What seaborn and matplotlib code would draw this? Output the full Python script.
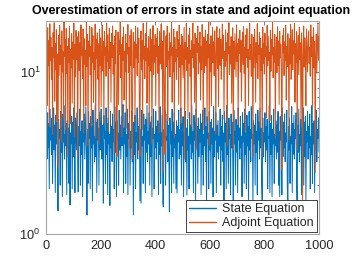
import numpy as np
import pandas as pd
import matplotlib
matplotlib.use("Agg")
import matplotlib.pyplot as plt
import seaborn as sns
from matplotlib.ticker import LogLocator, NullFormatter

title = "Overestimation of errors in state and adjoint equation"
series_names = ["State Equation", "Adjoint Equation"]
iterations = np.arange(2, 1001, 2)

state_values = [
    4.3, 2.9, 5.6, 3.4, 4.8, 1.9, 5.9, 3.8, 4.5, 3.1, 5.2, 2.05, 4.0, 6.0, 3.3, 4.7, 1.8, 5.4, 3.6, 4.9,
    2.8, 1.39, 5.1, 3.9, 4.4, 2.0, 5.7, 3.2, 4.6, 1.7, 5.5, 3.7, 4.1, 2.9, 6.2, 3.5, 4.8, 1.75, 5.0, 3.4,
    4.5, 2.05, 5.8, 1.51, 4.2, 3.6, 5.3, 1.9, 4.9, 3.0, 6.0, 3.8, 1.8, 5.2, 4.0, 3.3, 5.6, 2.8, 1.82, 4.6,
    3.5, 5.9, 2.0, 4.3, 3.1, 5.0, 1.7, 4.7, 3.7, 5.5, 2.9, 4.1, 6.1, 3.2, 1.31, 4.4, 2.05, 5.7, 3.9, 4.8,
    1.9, 5.3, 3.4, 4.6, 1.6, 5.8, 3.6, 4.0, 2.8, 6.2, 3.0, 4.9, 1.8, 5.1, 3.8, 4.5, 2.0, 5.6, 3.3, 4.2,
    5.9, 2.9, 4.7, 3.5, 1.55, 5.4, 3.9, 4.3, 2.05, 6.0, 3.1, 4.8, 1.75, 5.2, 3.6, 4.1, 1.5, 5.7, 3.4, 4.6,
    2.8, 5.5, 3.7, 4.4, 1.9, 6.1, 3.2, 4.9, 1.7, 5.0, 3.8, 4.2, 2.0, 5.8, 3.3, 4.7, 2.9, 5.3, 3.5, 4.0,
    6.3, 1.8, 4.5, 3.6, 5.6, 2.05, 4.1, 3.0, 5.9, 1.75, 4.8, 3.9, 5.1, 2.0, 4.3, 3.4, 5.7, 2.8, 4.6, 1.31,
    4.9, 3.1, 5.4, 1.9, 4.2, 3.7, 6.0, 2.9, 4.6, 3.3, 5.2, 1.6, 4.4, 1.55, 5.8, 3.5, 4.0, 2.05, 5.5, 3.8,
    4.7, 1.8, 5.1, 3.2, 6.2, 2.8, 4.3, 3.6, 5.6, 2.0, 4.9, 3.0, 5.3, 1.7, 4.5, 3.9, 5.9, 1.9, 4.1, 3.4,
    5.7, 2.9, 4.6, 3.7, 5.0, 1.75, 4.8, 3.1, 6.1, 2.05, 4.2, 3.5, 5.4, 1.55, 1.47, 4.4, 3.3, 5.8, 2.0, 4.0,
    3.8, 5.5, 2.8, 4.7, 3.2, 1.37, 5.2, 3.6, 4.3, 1.8, 5.9, 3.0, 4.9, 2.05, 5.6, 3.4, 4.1, 1.9, 5.0, 1.79,
    4.6, 3.7, 5.8, 2.9, 4.4, 3.1, 6.0, 2.0, 4.8, 3.5, 5.3, 1.7, 4.2, 3.9, 5.7, 2.8, 4.5, 1.74, 5.1, 3.3,
    4.0, 1.9, 5.6, 3.6, 4.7, 2.9, 6.2, 3.2, 4.3, 1.8, 5.4, 3.8, 4.9, 1.6, 5.9, 3.4, 4.6, 2.05, 5.2, 3.0,
    4.4, 3.7, 5.5, 1.75, 4.8, 3.1, 5.8, 2.0, 4.1, 3.5, 6.0, 2.8, 4.6, 1.5, 5.3, 3.9, 4.2, 1.9, 5.7, 3.3,
    4.9, 2.05, 5.1, 3.6, 4.5, 1.7, 6.1, 3.0, 4.3, 3.8, 5.6, 1.8, 4.7, 3.2, 5.0, 2.9, 4.0, 3.5, 5.9, 2.0,
    4.6, 3.3, 5.4, 2.8, 4.2, 1.45, 5.7, 3.7, 4.8, 1.9, 6.2, 3.1, 4.4, 2.05, 5.2, 3.9, 4.1, 1.75, 5.5, 3.4,
    4.9, 3.0, 1.45, 5.8, 3.6, 4.3, 2.0, 5.1, 3.2, 4.7, 1.8, 6.0, 3.8, 4.5, 2.9, 5.3, 3.4, 4.0, 1.7, 5.6,
    3.7, 4.8, 2.05, 5.9, 3.1, 4.2, 1.9, 5.4, 3.5, 4.6, 1.55, 5.7, 3.3, 4.4, 2.8, 6.1, 3.9, 4.1, 1.5, 5.0,
    3.6, 4.7, 2.0, 5.5, 3.2, 4.3, 1.75, 5.8, 3.8, 4.9, 2.9, 6.0, 3.4, 4.5, 2.05, 1.6, 5.2, 3.0, 4.2, 3.7,
    5.6, 2.8, 4.6, 3.3, 5.1, 1.9, 4.0, 3.9, 6.2, 1.8, 4.8, 3.1, 5.4, 1.7, 4.4, 3.6, 5.9, 2.05, 4.1, 3.5,
    5.0, 2.9, 4.7, 3.2, 5.7, 2.0, 4.3, 1.7, 5.3, 3.8, 4.5, 1.75, 6.0, 3.0, 4.9, 3.4, 5.5, 2.8, 4.2, 3.7,
    5.8, 1.9, 1.45, 4.6, 3.3, 5.2, 2.05, 4.0, 3.6, 6.1, 1.8, 4.8, 3.1, 5.4, 2.9, 4.4, 3.9, 5.6, 2.0, 1.5,
    4.7, 3.2, 5.9, 2.8, 4.1, 3.5, 5.1, 1.75, 4.5, 3.8, 6.0, 2.0, 4.9, 3.0, 5.3, 1.6, 4.3, 3.7, 5.7, 2.9,
    4.6, 3.4, 5.5, 1.9, 4.0, 3.1, 6.2, 2.05, 4.8, 3.6, 5.0, 1.8, 4.2, 3.3, 5.8, 2.8, 4.4, 3.9, 5.2, 3.2,
]

adjoint_values = [
    13.5, 6.2, 18.7, 10.9, 15.6, 4.6, 19.8, 11.7, 16.3, 9.0, 14.1, 4.1, 17.5, 12.2, 20.1, 6.6, 15.0, 10.3, 18.2, 5.0,
    12.9, 2.6, 16.8, 9.5, 19.3, 11.1, 14.6, 3.7, 17.9, 10.0, 13.3, 5.2, 20.3, 12.5, 15.9, 4.4, 18.5, 9.8, 14.4, 3.0,
    16.1, 11.4, 19.0, 4.8, 13.8, 10.6, 17.2, 6.4, 15.3, 12.0, 20.0, 4.0, 14.8, 9.3, 18.0, 11.9, 16.5, 3.0, 13.0, 17.7,
    10.2, 15.1, 5.1, 19.5, 12.7, 14.0, 9.1, 18.4, 4.2, 16.0, 11.2, 13.6, 6.2, 20.2, 10.8, 17.0, 3.5, 15.5, 12.4, 19.1,
    9.6, 14.3, 4.6, 18.8, 11.5, 16.7, 6.5, 13.2, 10.4, 19.7, 3.9, 15.8, 12.1, 17.4, 9.0, 14.9, 3.6, 18.3, 11.0, 16.2,
    6.1, 13.7, 19.4, 10.1, 15.4, 4.8, 17.8, 12.6, 14.2, 9.4, 20.0, 11.6, 16.9, 4.3, 13.1, 18.6, 10.5, 15.2, 6.5, 17.3,
    12.3, 19.2, 9.7, 14.5, 3.2, 16.6, 11.3, 18.1, 5.0, 3.0, 10.7, 17.6, 6.3, 15.7, 12.8, 20.4, 9.2, 14.7, 4.0, 16.4,
    11.8, 18.9, 6.7, 13.4, 10.0, 17.1, 4.5, 15.0, 12.9, 19.6, 9.9, 14.1, 3.4, 16.8, 11.0, 18.2, 5.2, 2.9, 13.6, 17.5,
    10.6, 15.3, 4.9, 19.0, 12.2, 14.8, 9.5, 18.7, 11.4, 16.1, 6.2, 3.0, 13.0, 17.9, 10.3, 15.6, 4.4, 19.9, 12.0, 14.4,
    9.1, 17.2, 11.7, 20.1, 6.4, 14.0, 10.9, 16.5, 4.7, 13.5, 18.4, 10.1, 15.9, 3.6, 12.7, 19.3, 9.6, 14.6, 11.5, 17.0,
    6.2, 16.0, 12.5, 18.6, 9.8, 14.3, 4.2, 17.7, 11.2, 13.8, 19.8, 10.4, 15.4, 2.4, 12.1, 18.0, 6.6, 3.1, 14.9, 16.7,
    10.8, 19.1, 5.0, 13.3, 11.9, 17.4, 9.3, 15.1, 12.6, 20.2, 6.5, 14.2, 10.0, 18.3, 3.9, 16.3, 11.6, 13.7, 9.0, 17.8,
    12.4, 15.8, 6.3, 19.4, 10.7, 14.6, 4.8, 17.1, 11.1, 16.6, 9.2, 13.0, 18.8, 2.9, 15.2, 12.0, 19.9, 10.2, 14.1, 5.2,
    16.9, 11.3, 18.5, 9.4, 13.6, 4.6, 15.6, 12.3, 20.0, 10.6, 14.7, 6.5, 17.3, 11.8, 3.3, 16.1, 13.2, 19.2, 9.7, 15.0,
    11.5, 17.6, 6.7, 14.4, 10.3, 19.6, 12.7, 4.4, 16.4, 9.9, 13.9, 18.1, 10.9, 15.5, 4.9, 17.0, 12.2, 20.3, 3.5, 14.8,
    10.1, 16.7, 6.2, 13.1, 18.9, 11.4, 15.3, 9.5, 17.9, 12.8, 4.1, 14.5, 19.0, 10.5, 16.2, 6.1, 13.5, 18.4, 11.0, 15.9,
    9.0, 14.0, 19.7, 12.1, 16.8, 5.1, 13.4, 10.8, 18.2, 11.7, 15.1, 3.5, 17.4, 12.9, 20.1, 9.6, 14.3, 11.2, 16.5, 6.4,
    13.7, 18.7, 3.3, 15.4, 10.4, 17.2, 12.5, 9.3, 19.5, 11.6, 14.9, 4.7, 16.0, 13.0, 18.0, 10.0, 15.7, 6.6, 12.6, 17.6,
    11.1, 19.1, 9.8, 14.2, 4.3, 16.9, 12.3, 18.5, 10.7, 13.8, 6.2, 15.6, 20.0, 11.9, 14.7, 9.4, 17.1, 12.0, 3.0, 16.3,
    10.6, 18.3, 13.3, 6.5, 15.2, 11.4, 19.8, 9.1, 14.6, 12.8, 17.5, 4.5, 16.1, 10.2, 13.9, 3.0, 18.8, 11.3, 15.0, 9.7,
    17.3, 12.4, 14.4, 5.2, 19.3, 10.9, 16.6, 11.8, 13.2, 5.0, 18.1, 10.1, 15.8, 12.7, 20.2, 9.2, 14.1, 11.5, 17.0, 3.9,
    13.6, 16.4, 9.9, 19.0, 11.0, 15.5, 6.3, 17.8, 12.2, 14.8, 10.5, 2.5, 16.7, 13.1, 18.6, 9.5, 15.3, 11.7, 19.4, 6.7,
    14.3, 10.8, 17.2, 12.6, 3.8, 16.0, 11.2, 19.7, 9.0, 13.7, 18.2, 10.3, 15.6, 12.9, 20.0, 6.5, 14.9, 11.4, 17.7, 3.3,
    13.4, 16.8, 9.6, 18.9, 11.9, 15.1, 4.8, 17.4, 12.1, 1.6, 14.6, 19.2, 10.7, 16.2, 12.8, 6.2, 18.4, 13.8, 10.0, 15.7,
    17.9, 11.3, 14.2, 9.4, 19.5, 12.5, 16.4, 6.1, 13.0, 18.7, 10.6, 15.4, 2.4, 12.3, 17.1, 9.8, 14.0, 20.1, 11.8, 16.6,
]

x_ticks = [0, 200, 400, 600, 800, 1000]
colors = ["#0072BD", "#D95319"]

sns.set_style("white")
plt.rcParams["font.family"] = ["Liberation Sans", "DejaVu Sans"]
plt.rcParams["mathtext.fontset"] = "custom"
plt.rcParams["mathtext.rm"] = "Liberation Sans"
plt.rcParams["mathtext.it"] = "Liberation Sans:italic"
plt.rcParams["mathtext.bf"] = "Liberation Sans:bold"

fig = plt.figure(figsize=(3.53, 2.64), dpi=100)
ax = fig.add_axes([46 / 353, 1 - 234 / 264, 273 / 353, 213 / 264])

df = pd.DataFrame({
    "iter": np.concatenate([iterations, iterations]),
    "value": state_values + adjoint_values,
    "series": [series_names[0]] * len(state_values) + [series_names[1]] * len(adjoint_values),
})

for name, col in zip(series_names, colors):
    sub = df[df["series"] == name]
    sns.lineplot(data=sub, x="iter", y="value", ax=ax, color=col, linewidth=0.7,
                 estimator=None, sort=False, label=name)

ax.set_yscale("log")
ax.set_xlim(0, 1000)
ax.set_ylim(1, 20.6)
ax.set_xticks(x_ticks)
ax.set_xticklabels([str(t) for t in x_ticks])
ax.yaxis.set_major_locator(LogLocator(base=10, numticks=5))
ax.yaxis.set_minor_locator(LogLocator(base=10, subs=np.arange(2, 10), numticks=20))
ax.yaxis.set_minor_formatter(NullFormatter())
ax.set_xlabel("")
ax.set_ylabel("")

axis_col = "#a8a8a8"
for s in ax.spines.values():
    s.set_color(axis_col)
    s.set_linewidth(0.8)
ax.tick_params(which="both", direction="in", top=True, right=True, color="#666666",
               labelcolor="#262626", labelsize=9.2, width=0.6)
ax.tick_params(which="major", length=3, pad=4)
ax.tick_params(which="minor", length=1.8)

ax.set_title(title, fontsize=8.9, fontweight="bold", color="black", x=0.531, pad=5)

leg = ax.legend(loc="lower right", fontsize=9.0, frameon=True, fancybox=False,
                edgecolor="#262626", framealpha=1, borderaxespad=0.15,
                handlelength=2.2, handletextpad=0.5, borderpad=0.25, labelspacing=0.15)
leg.get_frame().set_linewidth(0.6)
for h in leg.get_lines():
    h.set_linewidth(1.0)

fig.savefig("out.png", dpi=100)
